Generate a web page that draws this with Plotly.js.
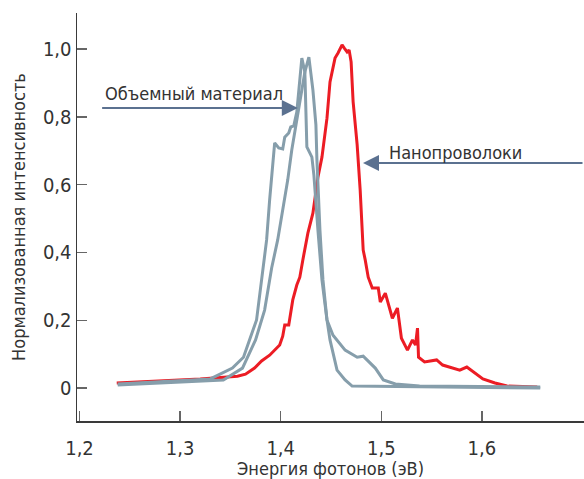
<!DOCTYPE html>
<html>
<head>
<meta charset="utf-8">
<script src="https://cdn.plot.ly/plotly-3.0.1.min.js"></script>
<style>html,body{margin:0;padding:0;background:#fff}#chart{width:584px;height:479px}</style>
</head>
<body>
<div id="chart"></div>
<script>
// Nanowires (red)
const nanoX = [1.237,1.320,1.357,1.365,1.374,1.381,1.389,1.399,1.402,1.404,1.408,1.410,1.412,1.416,1.419,1.422,1.427,1.432,1.434,1.437,1.441,1.446,1.449,1.454,1.457,1.461,1.463,1.466,1.468,1.470,1.472,1.476,1.479,1.482,1.484,1.487,1.491,1.497,1.499,1.504,1.511,1.516,1.520,1.526,1.531,1.534,1.536,1.537,1.543,1.555,1.561,1.578,1.585,1.601,1.613,1.625,1.655];
const nanoY = [0.015,0.027,0.035,0.041,0.059,0.080,0.097,0.127,0.153,0.186,0.186,0.230,0.260,0.304,0.327,0.378,0.457,0.516,0.555,0.622,0.681,0.796,0.903,0.973,0.988,1.012,1.003,0.991,0.997,0.962,0.844,0.717,0.584,0.407,0.378,0.327,0.295,0.295,0.254,0.280,0.206,0.236,0.147,0.112,0.142,0.127,0.177,0.091,0.077,0.083,0.068,0.053,0.062,0.027,0.015,0.006,0.003];

// Bulk material, curve 1 (grey, with shoulder)
const bulk1X = [1.238,1.330,1.352,1.363,1.369,1.376,1.381,1.386,1.389,1.392,1.394,1.398,1.402,1.404,1.408,1.410,1.413,1.416,1.421,1.424,1.425,1.426,1.431,1.433,1.437,1.441,1.446,1.452,1.464,1.476,1.482,1.494,1.502,1.514,1.538,1.658];
const bulk1Y = [0.012,0.027,0.059,0.091,0.142,0.201,0.319,0.437,0.555,0.673,0.723,0.708,0.705,0.740,0.752,0.770,0.773,0.814,0.973,0.932,0.820,0.711,0.681,0.628,0.466,0.319,0.201,0.156,0.112,0.091,0.094,0.059,0.024,0.012,0.006,0.003];

// Bulk material, curve 2 (grey)
const bulk2X = [1.238,1.343,1.362,1.367,1.375,1.384,1.387,1.391,1.397,1.402,1.407,1.411,1.415,1.419,1.424,1.428,1.432,1.435,1.436,1.439,1.442,1.446,1.449,1.456,1.464,1.471,1.658];
const bulk2Y = [0.009,0.024,0.059,0.091,0.142,0.230,0.289,0.354,0.437,0.525,0.614,0.702,0.776,0.850,0.932,0.976,0.879,0.776,0.673,0.466,0.319,0.201,0.142,0.053,0.024,0.006,0.000];

const xTickVals = [1.2,1.3,1.4,1.5,1.6];
const xTickText = ['1,2','1,3','1,4','1,5','1,6'];
const yTickVals = [0,0.2,0.4,0.6,0.8,1.0];
const yTickText = ['0','0,2','0,4','0,6','0,8','1,0'];

const FONT = 'Liberation Sans Narrow, DejaVu Sans Condensed, Arial Narrow, sans-serif';
const GREY = '#869eab';
const RED = '#ec1c24';
const ARROW = '#5b7190';

const traces = [
  {x: nanoX, y: nanoY, type: 'scatter', mode: 'lines', name: 'Нанопроволоки', line: {color: RED, width: 3}},
  {x: bulk1X, y: bulk1Y, type: 'scatter', mode: 'lines', name: 'Объемный материал', line: {color: GREY, width: 3}},
  {x: bulk2X, y: bulk2Y, type: 'scatter', mode: 'lines', name: 'Объемный материал', line: {color: GREY, width: 3}}
];

const layout = {
  width: 584, height: 479,
  margin: {l: 77, r: 0, t: 13, b: 58},
  paper_bgcolor: '#fff', plot_bgcolor: '#fff',
  showlegend: false,
  font: {family: FONT, color: '#333', size: 19},
  xaxis: {
    range: [1.1975, 1.7015], showgrid: false, zeroline: false,
    showline: true, linecolor: '#3a3a3a', linewidth: 1.5,
    ticks: 'inside', ticklen: 10, tickwidth: 1.5, tickcolor: '#666',
    tickvals: xTickVals, ticktext: xTickText,
    tickfont: {family: FONT, size: 20, color: '#333'},
    ticklabelstandoff: 8,
    title: {text: 'Энергия фотонов (эВ)', font: {family: FONT, size: 18, color: '#333'}, standoff: 10}
  },
  yaxis: {
    range: [-0.097, 1.106], showgrid: false, zeroline: false,
    showline: true, linecolor: '#3a3a3a', linewidth: 1.5,
    ticks: 'inside', ticklen: 10, tickwidth: 1.5, tickcolor: '#666',
    tickvals: yTickVals, ticktext: yTickText,
    tickfont: {family: FONT, size: 20, color: '#333'},
    title: {text: 'Нормализованная интенсивность', font: {family: FONT, size: 18, color: '#333'}, standoff: 12}
  },
  annotations: [
    {x: 1.417, y: 0.826, ax: 1.221, ay: 0.826, axref: 'x', ayref: 'y', xref: 'x', yref: 'y',
     text: '', showarrow: true, arrowhead: 2, arrowsize: 1.6, arrowwidth: 2, arrowcolor: ARROW},
    {x: 1.223, y: 0.870, xref: 'x', yref: 'y', xanchor: 'left', yanchor: 'middle',
     text: 'Объемный материал', showarrow: false, font: {family: FONT, size: 18, color: '#333'}},
    {x: 1.4818, y: 0.664, ax: 1.7015, ay: 0.664, axref: 'x', ayref: 'y', xref: 'x', yref: 'y',
     text: '', showarrow: true, arrowhead: 2, arrowsize: 1.6, arrowwidth: 2, arrowcolor: ARROW},
    {x: 1.5057, y: 0.696, xref: 'x', yref: 'y', xanchor: 'left', yanchor: 'middle',
     text: 'Нанопроволоки', showarrow: false, font: {family: FONT, size: 18, color: '#333'}}
  ]
};

Plotly.newPlot('chart', traces, layout, {displayModeBar: false, staticPlot: true});
</script>
</body>
</html>
